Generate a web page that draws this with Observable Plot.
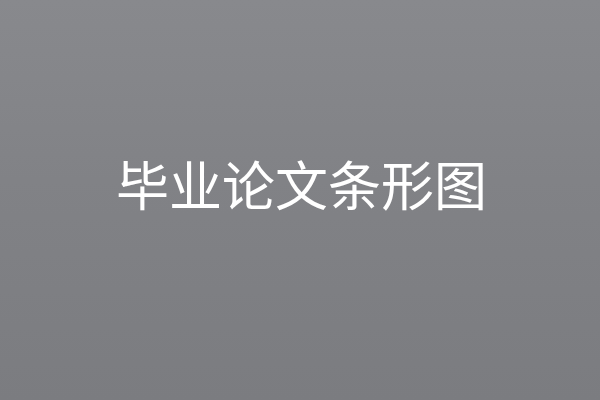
<!DOCTYPE html>
<html>
<head>
<meta charset="utf-8">
<script src="https://cdn.jsdelivr.net/npm/d3@7"></script>
<script src="https://cdn.jsdelivr.net/npm/@observablehq/plot@0.6"></script>
<style>
  html, body { margin: 0; padding: 0; background: #808185; }
</style>
</head>
<body>
<div id="chart"></div>
<script>
const titles = ["毕业论文条形图"];

const chart = Plot.plot({
  width: 600,
  height: 400,
  margin: 0,
  style: {
    background: "linear-gradient(180deg, #88898d 0%, #818286 45%, #7b7c80 100%)",
    overflow: "visible"
  },
  x: { axis: null },
  y: { axis: null },
  marks: [
    Plot.text(titles, {
      frameAnchor: "middle",
      text: d => d,
      dy: -11,
      dx: 1,
      fill: "white",
      fontSize: 53,
      fontFamily: "Noto Sans CJK SC",
      fontWeight: 400
    })
  ]
});
document.getElementById("chart").append(chart);
</script>
</body>
</html>
